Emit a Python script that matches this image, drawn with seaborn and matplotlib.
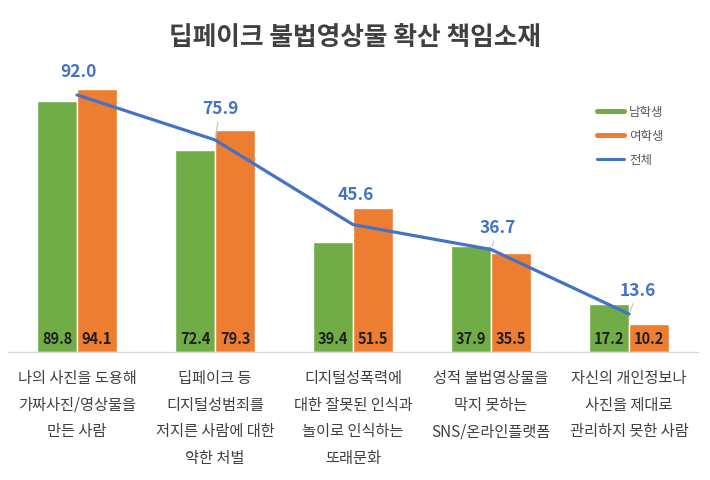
import numpy as np
import pandas as pd
import matplotlib
matplotlib.use('Agg')
import matplotlib.pyplot as plt
from matplotlib.lines import Line2D
import seaborn as sns

# 데이터
categories = [
    '나의 사진을 도용해\n가짜사진/영상물을\n만든 사람',
    '딥페이크 등\n디지털성범죄를\n저지른 사람에 대한\n약한 처벌',
    '디지털성폭력에\n대한 잘못된 인식과\n놀이로 인식하는\n또래문화',
    '성적 불법영상물을\n막지 못하는\nSNS/온라인플랫폼',
    '자신의 개인정보나\n사진을 제대로\n관리하지 못한 사람',
]
male = [89.8, 72.4, 39.4, 37.9, 17.2]
female = [94.1, 79.3, 51.5, 35.5, 10.2]
total = [92.0, 75.9, 45.6, 36.7, 13.6]

# 전체 라벨 위치 (픽셀 오프셋), 지시선 여부
label_offsets = [(1, 24), (5, 32), (3, 31), (7, 22), (9, 24)]
leaders = [False, True, False, True, True]

GREEN = '#70AD47'
ORANGE = '#ED7D31'
BLUE = '#4472C4'

sns.set_theme(style='white')
plt.rcParams['font.family'] = ['Noto Sans CJK KR', 'DejaVu Sans']

df = pd.DataFrame({
    'cat': list(range(len(categories))) * 2,
    'value': male + female,
    'group': ['남학생'] * len(male) + ['여학생'] * len(female),
})

fig = plt.figure(figsize=(7.1, 4.81), dpi=100)
ax = fig.add_axes([0.0113, 0.266, 0.972, 0.581])

sns.barplot(data=df, x='cat', y='value', hue='group',
            palette=[GREEN, ORANGE], width=0.58, gap=0,
            saturation=1, ax=ax, legend=False)

x = np.arange(len(categories))
sns.lineplot(x=x, y=total, color=BLUE, linewidth=2.3, ax=ax)

# 막대 안쪽 값
for cont in ax.containers:
    for bar in cont:
        h = bar.get_height()
        ax.text(bar.get_x() + bar.get_width() / 2, 5, f'{h:.1f}',
                ha='center', va='center', fontsize=10.5, fontweight='bold',
                color='#1f1f1f')

# 전체 값 라벨
for xi, v, off, ld in zip(x, total, label_offsets, leaders):
    arrow = dict(arrowstyle='-', color='#C0C0C0', lw=0.8,
                 shrinkA=1, shrinkB=2) if ld else None
    ax.annotate(f'{v:.1f}', xy=(xi, v), xytext=off,
                textcoords='offset pixels', ha='center', va='center',
                fontsize=12.5, fontweight='bold', color=BLUE,
                arrowprops=arrow)

ax.set_xlim(-0.5, 4.5)
ax.set_ylim(0, 100)
ax.set_xticks(x)
ax.set_xticklabels(categories, fontsize=11, color='#404040',
                   linespacing=1.76, fontweight='medium')
ax.tick_params(axis='x', length=0, pad=12)
ax.set_yticks([])
ax.set_xlabel('')
ax.set_ylabel('')
for s in ['top', 'right', 'left']:
    ax.spines[s].set_visible(False)
ax.spines['bottom'].set_color('#D9D9D9')
ax.spines['bottom'].set_linewidth(1)

handles = [
    Line2D([0], [0], color=GREEN, lw=3.6),
    Line2D([0], [0], color=ORANGE, lw=3.6),
    Line2D([0], [0], color=BLUE, lw=2.2),
]
fig.legend(handles, ['남학생', '여학생', '전체'], loc='upper left',
           bbox_to_anchor=(0.825, 0.802), frameon=False, fontsize=9,
           labelcolor='#595959', handlelength=2.16, labelspacing=0.88,
           handletextpad=0.4)

fig.text(0.5, 0.923, '딥페이크 불법영상물 확산 책임소재', ha='center',
         va='center', fontsize=18.5, fontweight='bold', color='#404040')

fig.savefig('out.png', dpi=100)
